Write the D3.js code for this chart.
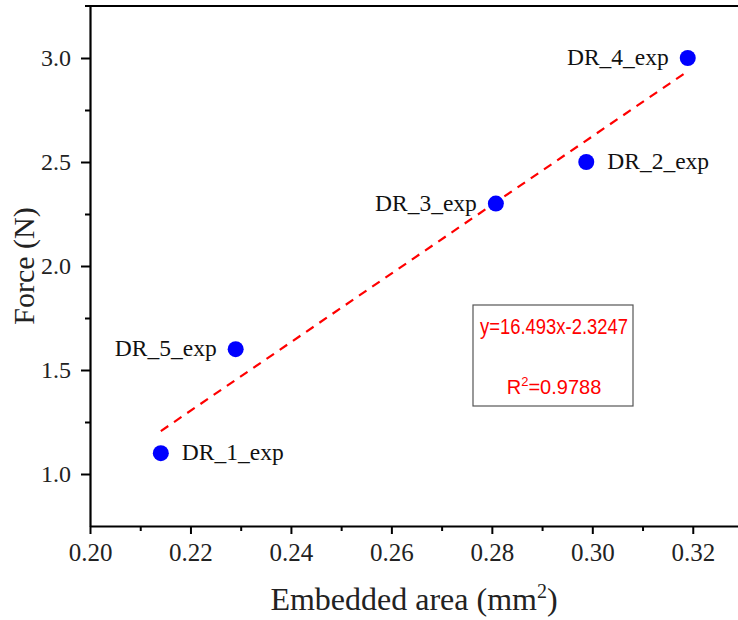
<!DOCTYPE html>
<html>
<head>
<meta charset="utf-8">
<script src="https://cdn.jsdelivr.net/npm/d3@7"></script>
<style>
  body { margin: 0; background: #fff; }
  svg { display: block; }
  .tick text { font-family: "Liberation Serif", serif; }
</style>
</head>
<body>
<div id="chart"></div>
<script>
// data
const samples = ["DR_1_exp", "DR_2_exp", "DR_3_exp", "DR_4_exp", "DR_5_exp"];
const area = [0.2141, 0.2988, 0.2808, 0.3190, 0.2290];
const force = [1.1, 2.5, 2.3, 3.0, 1.6];
const labelSide = ["right", "right", "left", "left", "left"];
const xTicks = [0.20, 0.22, 0.24, 0.26, 0.28, 0.30, 0.32];
const yTicks = [1.0, 1.5, 2.0, 2.5, 3.0];
const fitSlope = 16.493, fitIntercept = -2.3247, fitR2 = 0.9788;

const W = 738, H = 620;
const svg = d3.select("#chart")
    .append("svg")
    .attr("width", W)
    .attr("height", H);

const x = d3.scaleLinear().domain([0.20, 0.33]).range([90, 743]);
const y = d3.scaleLinear().domain([0.75, 3.25]).range([526, 6]);

// minor ticks
const xMinor = d3.range(0.21, 0.33, 0.02);
const yMinor = d3.range(1.25, 3.2, 0.5);

svg.append("g")
    .attr("transform", `translate(0,${y(0.75)})`)
    .call(d3.axisBottom(x).tickValues(xMinor).tickSize(5).tickFormat(""))
    .call(g => g.select(".domain").remove())
    .selectAll("line").attr("stroke-width", 2);

svg.append("g")
    .attr("transform", `translate(${x(0.20)},0)`)
    .call(d3.axisLeft(y).tickValues(yMinor).tickSize(5).tickFormat(""))
    .call(g => g.select(".domain").remove())
    .selectAll("line").attr("stroke-width", 2);

// major axes
const xAxis = svg.append("g")
    .attr("transform", `translate(0,${y(0.75)})`)
    .call(d3.axisBottom(x).tickValues(xTicks).tickSize(8).tickSizeOuter(0).tickPadding(9).tickFormat(d3.format(".2f")));
xAxis.select(".domain").attr("stroke-width", 2.2);
xAxis.selectAll(".tick line").attr("stroke-width", 2);
xAxis.selectAll(".tick text").attr("font-size", 25).attr("fill", "#222");

const yAxis = svg.append("g")
    .attr("transform", `translate(${x(0.20)},0)`)
    .call(d3.axisLeft(y).tickValues(yTicks).tickSize(9).tickSizeOuter(0).tickPadding(10).tickFormat(d3.format(".1f")));
yAxis.select(".domain").attr("stroke-width", 2.2);
yAxis.selectAll(".tick line").attr("stroke-width", 2);
yAxis.selectAll(".tick text").attr("font-size", 24).attr("fill", "#222");

// top border
svg.append("line")
    .attr("x1", x(0.20) - 5).attr("x2", W)
    .attr("y1", y(3.25)).attr("y2", y(3.25))
    .attr("stroke", "#000").attr("stroke-width", 2.2);

// axis titles
svg.append("text")
    .attr("x", 414).attr("y", 610)
    .attr("text-anchor", "middle")
    .attr("font-family", "Liberation Serif, serif")
    .attr("font-size", 32)
    .attr("fill", "#222")
    .html('Embedded area (mm<tspan dy="-12" font-size="20">2</tspan><tspan dy="12">)</tspan>');

svg.append("text")
    .attr("transform", "translate(34,266) rotate(-90)")
    .attr("text-anchor", "middle")
    .attr("font-family", "Liberation Serif, serif")
    .attr("font-size", 30)
    .attr("fill", "#222")
    .text("Force (N)");

// fit line
const fitX = d3.extent(area);
svg.append("line")
    .attr("x1", x(fitX[0])).attr("y1", y(fitSlope * fitX[0] + fitIntercept))
    .attr("x2", x(fitX[1])).attr("y2", y(fitSlope * fitX[1] + fitIntercept))
    .attr("stroke", "#ff0000")
    .attr("stroke-width", 2.2)
    .attr("stroke-dasharray", "9,7");

// points
const pts = samples.map((s, i) => ({ name: s, a: area[i], f: force[i], side: labelSide[i] }));

svg.selectAll("circle.pt")
    .data(pts)
    .join("circle")
    .attr("class", "pt")
    .attr("cx", d => x(d.a))
    .attr("cy", d => y(d.f))
    .attr("r", 8)
    .attr("fill", "#0000ff");

svg.selectAll("text.lbl")
    .data(pts)
    .join("text")
    .attr("class", "lbl")
    .attr("x", d => x(d.a) + (d.side === "right" ? 21 : -19))
    .attr("y", d => y(d.f) + 7)
    .attr("text-anchor", d => d.side === "right" ? "start" : "end")
    .attr("font-family", "Liberation Serif, serif")
    .attr("font-size", 23.5)
    .attr("fill", "#111")
    .text(d => d.name);

// equation box
svg.append("rect")
    .attr("x", 473).attr("y", 305)
    .attr("width", 160).attr("height", 101)
    .attr("fill", "none")
    .attr("stroke", "#555")
    .attr("stroke-width", 1.2);

svg.append("text")
    .attr("x", 554).attr("y", 334)
    .attr("text-anchor", "middle")
    .attr("font-family", "Liberation Sans, sans-serif")
    .attr("font-size", 22)
    .attr("fill", "#ff0000")
    .attr("textLength", 148)
    .attr("lengthAdjust", "spacingAndGlyphs")
    .text(`y=${fitSlope}x${fitIntercept}`);

svg.append("text")
    .attr("x", 554).attr("y", 394)
    .attr("text-anchor", "middle")
    .attr("font-family", "Liberation Sans, sans-serif")
    .attr("font-size", 20)
    .attr("fill", "#ff0000")
    .html(`R<tspan dy="-8" font-size="13">2</tspan><tspan dy="8">=${fitR2}</tspan>`);
</script>
</body>
</html>
